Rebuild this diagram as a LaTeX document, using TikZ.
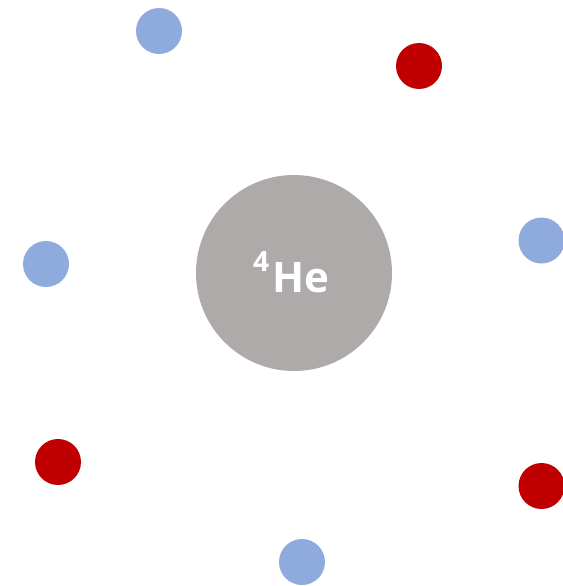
\documentclass[tikz,border=0pt]{standalone}
\usepackage{fontspec}
\newfontfamily\labelfont{Open Sans}
\usepackage{tikz}
\definecolor{heliumgray}{RGB}{174, 170, 170}
\definecolor{protonred}{RGB}{192, 0, 0}
\definecolor{neutronblue}{RGB}{143, 170, 220}

\begin{document}
\begin{tikzpicture}[x=1pt, y=-1pt,
    core/.style={circle, fill=heliumgray, inner sep=0pt, minimum size=196pt},
    redball/.style={circle, fill=protonred, inner sep=0pt, minimum size=46pt},
    blueball/.style={circle, fill=neutronblue, inner sep=0pt, minimum size=46pt}]
  \useasboundingbox (0,0) rectangle (562,586);
  \node[core] (he) at (294,273) {};
  \node[text=white, font=\labelfont\bfseries\fontsize{42}{42}\selectfont, inner sep=0pt, anchor=base west] (helabel) at (253,292)
    {\raisebox{21pt}{\fontsize{28}{28}\selectfont 4}\kern3pt He};
  \node[blueball] (b1) at (159,31) {};
  \node[blueball] (b2) at (46,264) {};
  \node[blueball] (b3) at (541.5,240.5) {};
  \node[blueball] (b4) at (302,562) {};
  \node[redball] (r1) at (419,66) {};
  \node[redball] (r2) at (58,462) {};
  \node[redball] (r3) at (541.5,486) {};
\end{tikzpicture}
\end{document}
